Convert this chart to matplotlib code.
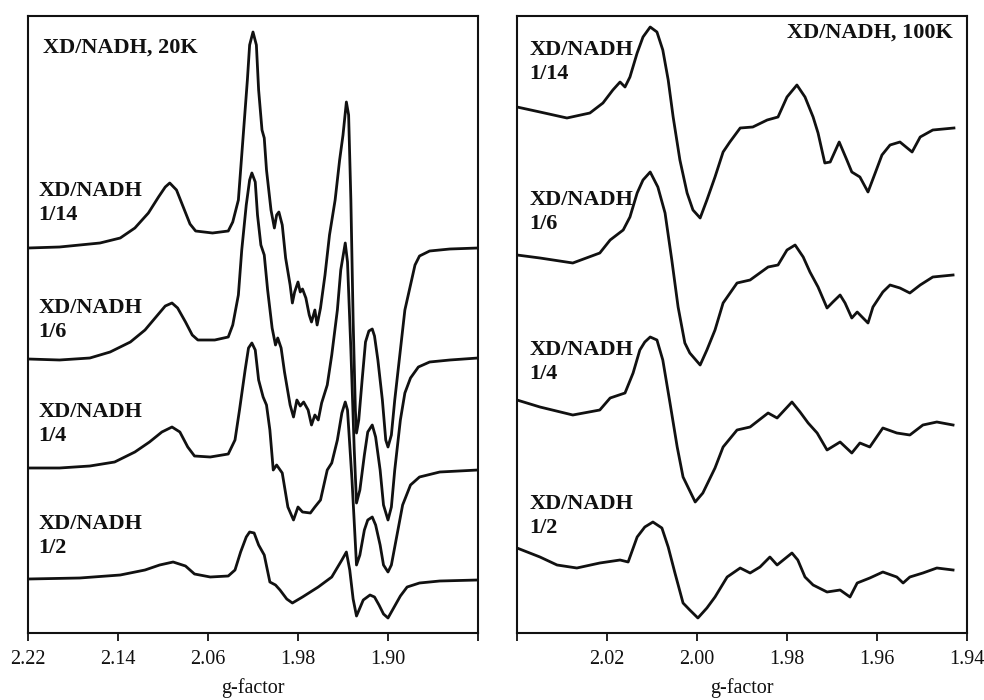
import matplotlib
matplotlib.use('Agg')
import matplotlib.pyplot as plt

plt.rcParams['font.family'] = ['Liberation Serif', 'DejaVu Serif']

# ---- 20 K spectra (g-factor, derivative intensity relative to each baseline) ----
g20_14 = [2.220, 2.192, 2.156, 2.138, 2.125, 2.113, 2.104, 2.098, 2.094, 2.088, 2.082, 2.076,
          2.071, 2.056, 2.042, 2.038, 2.033, 2.029, 2.025, 2.023, 2.020, 2.017, 2.015, 2.012,
          2.010, 2.008, 2.004, 2.001, 1.999, 1.997, 1.994, 1.991, 1.987, 1.985, 1.983, 1.980,
          1.978, 1.976, 1.973, 1.970, 1.968, 1.965, 1.963, 1.960, 1.956, 1.952, 1.947, 1.943,
          1.940, 1.937, 1.935, 1.933, 1.931, 1.929, 1.928, 1.926, 1.923, 1.920, 1.917, 1.914,
          1.912, 1.909, 1.905, 1.902, 1.900, 1.897, 1.894, 1.889, 1.885, 1.880, 1.876, 1.872,
          1.863, 1.845, 1.820]
s20_14 = [0, 1, 5, 10, 20, 35, 51, 61, 65, 58, 41, 24,
          17, 15, 17, 26, 48, 108, 168, 203, 216, 203, 158, 118,
          110, 78, 38, 20, 33, 36, 23, -10, -37, -55, -44, -34,
          -44, -41, -50, -67, -74, -62, -77, -60, -27, 13, 48, 88,
          113, 146, 133, 48, -72, -162, -185, -172, -132, -94, -83, -81,
          -88, -112, -152, -192, -199, -187, -152, -102, -62, -37, -17, -8,
          -3, -1, 0]

g20_6 = [2.220, 2.192, 2.165, 2.147, 2.129, 2.116, 2.107, 2.098, 2.092, 2.087, 2.080, 2.074,
         2.069, 2.054, 2.042, 2.038, 2.033, 2.030, 2.026, 2.023, 2.021, 2.018, 2.016, 2.013,
         2.010, 2.007, 2.003, 2.000, 1.998, 1.995, 1.992, 1.987, 1.984, 1.981, 1.978, 1.975,
         1.971, 1.968, 1.965, 1.962, 1.959, 1.954, 1.950, 1.945, 1.942, 1.938, 1.936, 1.933,
         1.930, 1.928, 1.925, 1.921, 1.918, 1.914, 1.911, 1.907, 1.904, 1.900, 1.897, 1.894,
         1.889, 1.885, 1.880, 1.873, 1.863, 1.845, 1.820]
s20_6 = [0, -1, 1, 7, 17, 29, 41, 53, 56, 51, 37, 24,
         19, 19, 22, 34, 64, 109, 154, 179, 186, 177, 144, 114,
         104, 69, 31, 14, 21, 11, -13, -46, -58, -41, -47, -43,
         -51, -66, -56, -61, -44, -26, 4, 49, 89, 116, 97, 9,
         -91, -144, -131, -96, -73, -66, -78, -111, -146, -161, -148, -111,
         -61, -34, -19, -8, -3, -1, 1]

g20_4 = [2.220, 2.192, 2.165, 2.143, 2.125, 2.112, 2.101, 2.092, 2.085, 2.078, 2.072, 2.058,
         2.042, 2.036, 2.032, 2.027, 2.024, 2.021, 2.018, 2.015, 2.011, 2.008, 2.005, 2.002,
         1.999, 1.994, 1.989, 1.984, 1.980, 1.976, 1.969, 1.965, 1.960, 1.954, 1.950, 1.945,
         1.941, 1.938, 1.936, 1.932, 1.928, 1.925, 1.921, 1.918, 1.914, 1.911, 1.907, 1.904,
         1.900, 1.897, 1.892, 1.887, 1.880, 1.872, 1.854, 1.820]
s20_4 = [0, 0, 2, 6, 16, 26, 36, 41, 36, 21, 12, 11,
         14, 28, 58, 98, 120, 125, 118, 88, 71, 63, 38, -2,
         3, -5, -39, -52, -39, -44, -45, -39, -32, -2, 5, 28,
         55, 66, 58, -12, -97, -87, -62, -52, -49, -57, -77, -97,
         -104, -97, -67, -37, -17, -9, -4, -2]

g20_2 = [2.220, 2.174, 2.138, 2.116, 2.103, 2.091, 2.080, 2.072, 2.058, 2.042, 2.036, 2.031,
         2.026, 2.023, 2.019, 2.015, 2.010, 2.005, 2.000, 1.996, 1.990, 1.985, 1.976, 1.962,
         1.950, 1.941, 1.937, 1.934, 1.931, 1.928, 1.922, 1.916, 1.912, 1.908, 1.904, 1.900,
         1.896, 1.889, 1.883, 1.872, 1.854, 1.820]
s20_2 = [0, 1, 4, 9, 14, 17, 13, 5, 2, 3, 9, 27,
         42, 47, 46, 34, 24, -3, -6, -11, -20, -24, -18, -8,
         2, 19, 27, 9, -20, -37, -21, -16, -18, -26, -35, -39,
         -31, -17, -8, -4, -2, -1]

# ---- 100 K spectra ----
g100_14 = [2.0400, 2.0349, 2.0289, 2.0238, 2.0209, 2.0187, 2.0171, 2.0160, 2.0149, 2.0133,
           2.0120, 2.0104, 2.0089, 2.0076, 2.0064, 2.0053, 2.0038, 2.0022, 2.0009, 1.9993,
           1.9978, 1.9960, 1.9942, 1.9927, 1.9904, 1.9876, 1.9844, 1.9820, 1.9800, 1.9778,
           1.9760, 1.9742, 1.9731, 1.9716, 1.9704, 1.9684, 1.9667, 1.9656, 1.9638, 1.9620,
           1.9604, 1.9589, 1.9571, 1.9549, 1.9522, 1.9504, 1.9476, 1.9429]
s100_14 = [0, -5, -11, -6, 4, 17, 25, 20, 30, 54,
           70, 80, 75, 57, 27, -10, -53, -86, -103, -111,
           -93, -70, -45, -35, -21, -20, -13, -10, 10, 22,
           10, -10, -26, -56, -55, -35, -53, -65, -70, -85,
           -66, -48, -38, -35, -45, -30, -23, -21]

g100_6 = [2.0400, 2.0349, 2.0276, 2.0216, 2.0193, 2.0164, 2.0149, 2.0133, 2.0120, 2.0104,
          2.0087, 2.0071, 2.0056, 2.0042, 2.0027, 2.0016, 1.9993, 1.9978, 1.9960, 1.9942,
          1.9911, 1.9882, 1.9842, 1.9820, 1.9800, 1.9782, 1.9764, 1.9749, 1.9731, 1.9711,
          1.9698, 1.9682, 1.9671, 1.9656, 1.9644, 1.9631, 1.9620, 1.9609, 1.9587, 1.9571,
          1.9549, 1.9527, 1.9504, 1.9476, 1.9431]
s100_6 = [0, -3, -8, 2, 15, 25, 38, 62, 75, 83,
          68, 42, -5, -52, -88, -98, -110, -95, -75, -48,
          -28, -25, -12, -10, 5, 10, -2, -17, -32, -53,
          -47, -40, -48, -63, -57, -63, -68, -52, -37, -30,
          -33, -38, -30, -22, -20]

g100_4 = [2.0400, 2.0349, 2.0276, 2.0216, 2.0193, 2.0160, 2.0142, 2.0127, 2.0116, 2.0104,
          2.0089, 2.0076, 2.0060, 2.0044, 2.0031, 2.0004, 1.9987, 1.9960, 1.9942, 1.9911,
          1.9882, 1.9842, 1.9822, 1.9789, 1.9771, 1.9753, 1.9733, 1.9711, 1.9682, 1.9656,
          1.9638, 1.9616, 1.9587, 1.9556, 1.9527, 1.9498, 1.9467, 1.9431]
s100_4 = [0, -7, -15, -10, 2, 7, 27, 50, 58, 63,
          60, 40, -3, -47, -77, -102, -93, -68, -47, -30,
          -27, -13, -18, -2, -12, -23, -33, -50, -42, -53,
          -43, -47, -28, -33, -35, -25, -22, -25]

g100_2 = [2.0400, 2.0349, 2.0311, 2.0267, 2.0216, 2.0171, 2.0153, 2.0133, 2.0116, 2.0098,
          2.0078, 2.0064, 2.0049, 2.0031, 2.0016, 1.9998, 1.9978, 1.9960, 1.9933, 1.9904,
          1.9882, 1.9860, 1.9838, 1.9822, 1.9789, 1.9776, 1.9760, 1.9742, 1.9711, 1.9682,
          1.9660, 1.9644, 1.9616, 1.9587, 1.9556, 1.9542, 1.9527, 1.9498, 1.9467, 1.9431]
s100_2 = [0, -9, -17, -20, -15, -12, -14, 11, 21, 26,
          20, 1, -25, -55, -62, -70, -60, -49, -29, -20,
          -25, -19, -9, -17, -5, -12, -29, -37, -44, -42,
          -49, -35, -30, -24, -29, -35, -29, -25, -20, -22]

ratios = ['1/14', '1/6', '1/4', '1/2']
offsets_20 = [452, 341, 232, 121]
offsets_100 = [593, 445, 300, 152]
label_y_20 = [497, 380, 276, 164]
label_y_100 = [638, 488, 338, 184]

spectra_20 = [(g20_14, s20_14), (g20_6, s20_6), (g20_4, s20_4), (g20_2, s20_2)]
spectra_100 = [(g100_14, s100_14), (g100_6, s100_6), (g100_4, s100_4), (g100_2, s100_2)]

fig = plt.figure(figsize=(9.84, 7.0), dpi=100)
ax1 = fig.add_axes([28 / 984, 67 / 700, 450 / 984, 617 / 700])
ax2 = fig.add_axes([517 / 984, 67 / 700, 450 / 984, 617 / 700])

for (g, s), off in zip(spectra_20, offsets_20):
    ax1.plot(g, [v + off for v in s], color='#111111', lw=2.0, solid_joinstyle='round')
for (g, s), off in zip(spectra_100, offsets_100):
    ax2.plot(g, [v + off for v in s], color='#111111', lw=2.0, solid_joinstyle='round')

lab = dict(fontsize=16, fontweight='bold', color='#111111', linespacing=1.3)
for r, y in zip(ratios, label_y_20):
    ax1.text(2.211, y, 'XD/NADH\n' + r, ha='left', va='center', **lab)
for r, y in zip(ratios, label_y_100):
    ax2.text(2.0373, y, 'XD/NADH\n' + r, ha='left', va='center', **lab)
ax1.text(2.2067, 652, 'XD/NADH, 20K', ha='left', va='center', **lab)
ax2.text(1.9431, 667, 'XD/NADH, 100K', ha='right', va='center', **lab)

ax1.set_xlim(2.22, 1.82)
ax1.set_xticks([2.22, 2.14, 2.06, 1.98, 1.90, 1.82])
ax1.set_xticklabels(['2.22', '2.14', '2.06', '1.98', '1.90', ''])
ax2.set_xlim(2.04, 1.94)
ax2.set_xticks([2.04, 2.02, 2.00, 1.98, 1.96, 1.94])
ax2.set_xticklabels(['', '2.02', '2.00', '1.98', '1.96', '1.94'])

for ax in (ax1, ax2):
    ax.set_ylim(67, 684)
    ax.set_yticks([])
    ax.tick_params(axis='x', direction='out', length=6, width=1.3, pad=6,
                   labelsize=14.5, colors='#111111')
    for sp in ax.spines.values():
        sp.set_linewidth(1.5)
        sp.set_color('#111111')
    ax.set_xlabel('g-factor', fontsize=14.5, labelpad=7, color='#111111')

fig.savefig('out.png', dpi=100)
